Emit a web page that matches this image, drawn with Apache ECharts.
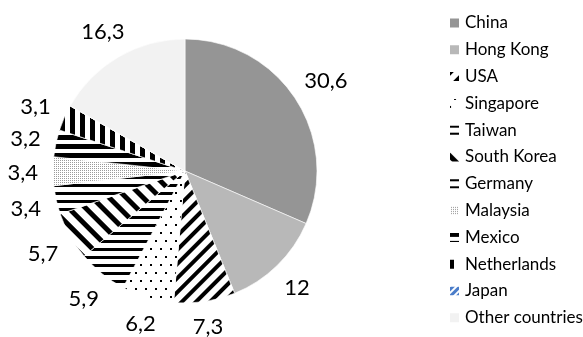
<!DOCTYPE html>
<html>
<head>
<meta charset="utf-8">
<script src="https://cdn.jsdelivr.net/npm/echarts@6/dist/echarts.min.js"></script>
<style>
  html, body { margin: 0; padding: 0; background: #fff; }
  #chart { width: 583px; height: 337px; }
</style>
</head>
<body>
<div id="chart"></div>
<script>
// Share of exports by destination, in percent
const countries = ['China', 'Hong Kong', 'USA', 'Singapore', 'Taiwan', 'South Korea',
  'Germany', 'Malaysia', 'Mexico', 'Netherlands', 'Japan', 'Other countries'];
const shares = [30.6, 12, 7.3, 6.2, 5.9, 5.7, 3.4, 3.4, 3.2, 3.1, 0, 16.3];

// Fill for each slice: plain greys or black-on-white hatching
const fills = [
  { color: '#959595' },
  { color: '#b8b8b8' },
  { color: '#ffffff', decal: { symbol: 'rect', symbolSize: 1, color: '#000', dashArrayX: [1, 0], dashArrayY: [4, 6], rotation: -Math.PI / 4 } },
  { color: '#ffffff', decal: { symbol: 'rect', symbolSize: 1, color: '#000', dashArrayX: [[2, 8], [0, 5, 2, 3]], dashArrayY: [2, 6] } },
  { color: '#ffffff', decal: { symbol: 'rect', symbolSize: 1, color: '#000', dashArrayX: [1, 0], dashArrayY: [2.5, 4.5] } },
  { color: '#ffffff', decal: { symbol: 'rect', symbolSize: 1, color: '#000', dashArrayX: [1, 0], dashArrayY: [5, 7], rotation: Math.PI / 4 } },
  { color: '#ffffff', decal: { symbol: 'rect', symbolSize: 1, color: '#000', dashArrayX: [1, 0], dashArrayY: [2.5, 4.5] } },
  { color: '#ffffff', decal: { symbol: 'rect', symbolSize: 1, color: '#9a9a9a', dashArrayX: [1, 1], dashArrayY: [1, 1] } },
  { color: '#ffffff', decal: { symbol: 'rect', symbolSize: 1, color: '#000', dashArrayX: [1, 0], dashArrayY: [5, 4] } },
  { color: '#ffffff', decal: { symbol: 'rect', symbolSize: 1, color: '#000', dashArrayX: [5, 5], dashArrayY: [1, 0] } },
  { color: '#4a7cc9', decal: { symbol: 'rect', symbolSize: 1, color: '#ffffff', dashArrayX: [1, 0], dashArrayY: [2, 3], rotation: -Math.PI / 4 } },
  { color: '#f2f2f2' }
];

const CX = 185, CY = 171, R = 132, GAP = 15;
const total = shares.reduce((a, b) => a + b, 0);

// Mid angle of each slice, measured clockwise from 12 o'clock
const midAngles = [];
let acc = 0;
shares.forEach(v => { midAngles.push((acc + v / 2) / total * 2 * Math.PI); acc += v; });

const chart = echarts.init(document.getElementById('chart'), null, { renderer: 'canvas' });

chart.setOption({
  animation: false,
  backgroundColor: '#ffffff',
  legend: {
    orient: 'vertical',
    left: 448,
    top: 14,
    padding: 0,
    itemWidth: 11,
    itemHeight: 11,
    itemGap: 8.8,
    icon: 'rect',
    textStyle: { fontFamily: 'Lato', fontSize: 17, color: '#000', lineHeight: 18 },
    data: countries
  },
  series: [{
    type: 'pie',
    center: [CX, CY],
    radius: R,
    startAngle: 90,
    clockwise: true,
    avoidLabelOverlap: false,
    itemStyle: { borderColor: '#ffffff', borderWidth: 0.6 },
    label: {
      show: true,
      position: 'outside',
      fontFamily: 'Lato',
      fontSize: 22,
      color: '#000',
      formatter: p => String(p.value).replace('.', ',')
    },
    labelLine: { show: false },
    // Each value sits just beyond the rim, on its slice's bisector
    labelLayout: p => {
      const a = midAngles[p.dataIndex];
      const dx = Math.sin(a), dy = -Math.cos(a);
      const hw = p.labelRect.width / 2, hh = p.labelRect.height / 2 - 5;
      const d = R + GAP + Math.abs(dx) * hw + Math.abs(dy) * hh;
      return { x: CX + d * dx, y: CY + d * dy + 2, align: 'center', verticalAlign: 'middle' };
    },
    data: countries.map((name, i) => ({
      name,
      value: shares[i],
      itemStyle: fills[i],
      label: { show: shares[i] > 0 }
    }))
  }]
});
</script>
</body>
</html>
